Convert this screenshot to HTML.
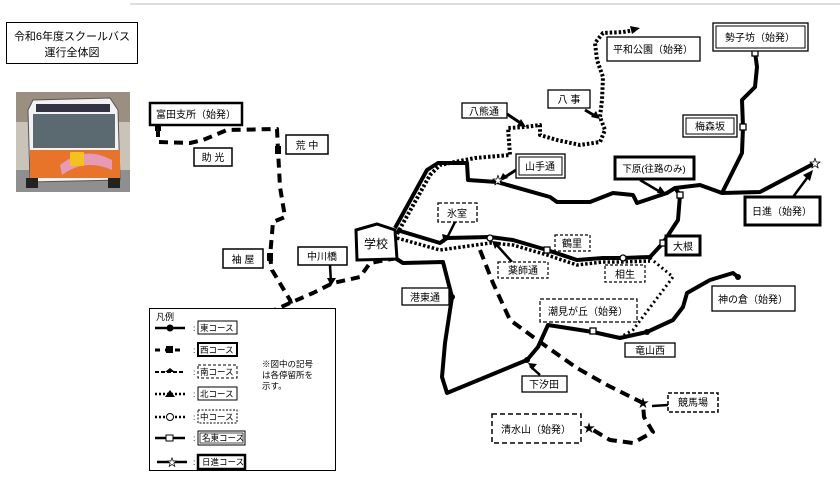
<!DOCTYPE html>
<html><head><meta charset="utf-8"><style>
html,body{margin:0;padding:0;background:#fff;}
svg{display:block;font-family:"Liberation Sans","Noto Sans CJK JP",sans-serif;}
</style></head><body>
<svg width="840" height="498" viewBox="0 0 840 498" xmlns="http://www.w3.org/2000/svg">
<rect width="840" height="498" fill="#fff"/>
<line x1="130" y1="4" x2="840" y2="4" stroke="#ddd" stroke-width="2"/>
<rect x="6.5" y="22.5" width="131" height="41" fill="#fff" stroke="#000"/>
<text x="72" y="40" font-size="11" text-anchor="middle">令和6年度スクールバス</text>
<text x="72" y="56" font-size="11" text-anchor="middle">運行全体図</text>
<g>
<rect x="16" y="92" width="114" height="100" fill="#c9c3b8"/>
<rect x="16" y="92" width="114" height="30" fill="#9a8f80"/>
<rect x="16" y="170" width="114" height="22" fill="#8f8f8f"/>
<path d="M33 100 L110 98 L118 110 L120 180 L30 182 L28 110 Z" fill="#f2f2f2" stroke="#555"/>
<rect x="36" y="104" width="74" height="8" fill="#334"/>
<rect x="33" y="114" width="82" height="34" fill="#5a6a70"/>
<path d="M30 150 L120 150 L120 178 L30 178 Z" fill="#e8742a"/>
<path d="M60 165 Q85 145 112 160 L112 170 Q85 158 62 175 Z" fill="#e79ab8"/>
<rect x="70" y="152" width="14" height="14" fill="#f3c21c"/>
<rect x="26" y="178" width="12" height="10" fill="#222"/><rect x="108" y="178" width="12" height="10" fill="#222"/>
</g>

<g fill="none" stroke="#000" stroke-linejoin="round" stroke-linecap="butt">
<polyline points="158,128 158,142 190,143 203,140 227,130 277,129 278,150 280,187 285,217 273,222 270,257 272,270 290,300 293,310" stroke-width="4" stroke-dasharray="9 6"/>
<polyline points="397,258 370,263 360,277 333,283 313,293 290,303 270,312" stroke-width="4" stroke-dasharray="9 6"/>
<polyline points="480,250 493,283 510,320 547,347 577,368 607,385 643,403 644,417 653,432 633,443 610,440 588,427" stroke-width="4" stroke-dasharray="10 6"/>
<polyline points="397,234 430,175 440,165 475,158 510,155 508,128 525,127 540,125 540,135 557,140 580,145 600,142 605,130 600,117 602,100 603,77 597,60 595,43 603,33 623,32 635,30" stroke-width="4" stroke-dasharray="2.5 2"/>
<polyline points="397,238 440,250 490,243 513,245 547,255 577,265 603,262 623,262 650,261" stroke-width="3.5" stroke-dasharray="2.5 2"/>
<polyline points="650,258 673,277 633,330 617,339" stroke-width="3" stroke-dasharray="2 3"/>
<polyline points="395,228 427,170 438,163 467,163 468,180 497,182 550,197 557,202 590,202 613,193 633,195 637,203 667,193 675,188 700,185 722,193 760,192 815,163" stroke-width="4"/>
<polyline points="755,52 757,67 755,87 742,100 743,127 742,153 730,177 722,193" stroke-width="4"/>
<polyline points="397,230 440,243 447,238 490,237 513,240 547,250 577,260 603,258 623,258 650,257 663,243 678,220 680,195 675,188" stroke-width="4"/>
<polyline points="395,258 403,263 443,262 452,297 445,343 442,377 447,393 527,360 538,347 548,325 593,332 620,338 647,332 673,320 683,307 687,293 710,280 733,273 738,277" stroke-width="4"/>
<line x1="507" y1="114" x2="522" y2="124" stroke-width="3"/>
<line x1="585" y1="110" x2="597" y2="117" stroke-width="3"/>
<line x1="516" y1="170" x2="502" y2="179" stroke-width="3"/>
<line x1="455" y1="222" x2="446" y2="240" stroke-width="2.5"/>
<line x1="512" y1="262" x2="495" y2="243" stroke-width="2.5"/>
<line x1="540" y1="375" x2="530" y2="366" stroke-width="2.5"/>
<line x1="330" y1="265" x2="331" y2="283" stroke-width="2.5"/>
<line x1="668" y1="405" x2="652" y2="406" stroke-width="2.5"/>
<line x1="640" y1="180" x2="662" y2="193" stroke-width="2.5"/>
<line x1="793" y1="197" x2="810" y2="174" stroke-width="2.5"/>
</g>
<g fill="#000">
<polygon points="640,28 630,26 632,34"/>
<polygon points="526,127 517,126 521,119"/>
<polygon points="600,119 591,117 596,111"/>
<polygon points="499,181 503,173 508,178"/>
<polygon points="444,243 442,234 450,236"/>
<polygon points="492,241 500,242 495,249"/>
<polygon points="528,363 537,364 532,370"/>
<polygon points="331,286 327,278 336,278"/>
<polygon points="813,170 803,175 810,181"/>
<polygon points="666,194 657,193 660,186"/>
<circle cx="452" cy="297" r="3"/><circle cx="527" cy="360" r="3"/><circle cx="738" cy="277" r="3"/><circle cx="647" cy="332" r="3"/>
<rect x="155" y="123" width="6" height="8"/><rect x="275" y="146" width="6" height="8"/><rect x="267" y="253" width="6" height="8"/>
<text x="643" y="407" font-size="12" text-anchor="middle">★</text>
<text x="589" y="432" font-size="12" text-anchor="middle">★</text>
</g>
<g fill="#fff" stroke="#000" stroke-width="1.3">
<rect x="752" y="50" width="6" height="6"/><rect x="740" y="124" width="6" height="6"/><rect x="677" y="192" width="6" height="6"/><rect x="660" y="240" width="6" height="6"/>
<rect x="590" y="328" width="6" height="6"/><rect x="544" y="247" width="6" height="6"/>
<circle cx="623" cy="258" r="3"/><circle cx="490" cy="238" r="3"/>
</g>
<text x="498" y="184" font-size="11" text-anchor="middle" fill="#fff" stroke="#000" stroke-width="0.8">★</text>
<text x="815" y="167" font-size="11" text-anchor="middle" fill="#fff" stroke="#000" stroke-width="0.8">★</text>

<polygon points="356,230 377,224 395,230 397,259 357,260" fill="#fff" stroke="#000" stroke-width="3"/>
<text x="376" y="248" font-size="12" text-anchor="middle">学校</text>

<g font-size="10" text-anchor="middle">
<rect x="150" y="103" width="92" height="22" fill="#fff" stroke="#000" stroke-width="2.5"/><text x="196" y="118">富田支所（始発）</text>
<rect x="194" y="148" width="38" height="18" fill="#fff" stroke="#000" stroke-width="1.5"/><text x="213" y="161">助 光</text>
<rect x="286" y="135" width="42" height="19" fill="#fff" stroke="#000" stroke-width="1.5"/><text x="307" y="149">荒 中</text>
<rect x="223" y="249" width="40" height="19" fill="#fff" stroke="#000" stroke-width="1.5"/><text x="243" y="263">袖 屋</text>
<rect x="298" y="247" width="49" height="18" fill="#fff" stroke="#000" stroke-width="1.5"/><text x="322" y="260">中川橋</text>
<rect x="438" y="203" width="39" height="19" fill="#fff" stroke="#000" stroke-width="1.3" stroke-dasharray="4 2"/><text x="457" y="217">氷室</text>
<rect x="462" y="103" width="45" height="15" fill="#fff" stroke="#000" stroke-width="1.3"/><text x="484" y="115">八熊通</text>
<rect x="548" y="90" width="42" height="18" fill="#fff" stroke="#000" stroke-width="1.3"/><text x="569" y="103">八 事</text>
<rect x="607" y="37" width="93" height="24" fill="#fff" stroke="#000" stroke-width="1.3"/><text x="653" y="53">平和公園（始発）</text>
<rect x="713" y="23" width="95" height="28" fill="#fff" stroke="#000" stroke-width="1.3"/><rect x="716" y="26" width="89" height="22" fill="none" stroke="#000" stroke-width="1"/><text x="760" y="41">勢子坊（始発）</text>
<rect x="683" y="115" width="54" height="22" fill="#fff" stroke="#000" stroke-width="1.3"/><rect x="686" y="118" width="48" height="16" fill="none" stroke="#000" stroke-width="1"/><text x="710" y="130">梅森坂</text>
<rect x="516" y="154" width="49" height="24" fill="#fff" stroke="#000" stroke-width="1.3"/><rect x="519" y="157" width="43" height="18" fill="none" stroke="#000" stroke-width="1"/><text x="540" y="170">山手通</text>
<rect x="615" y="157" width="79" height="22" fill="#fff" stroke="#000" stroke-width="3"/><text x="654" y="172" font-size="9.5">下原(往路のみ)</text>
<rect x="745" y="197" width="75" height="28" fill="#fff" stroke="#000" stroke-width="3"/><text x="782" y="215">日進（始発）</text>
<rect x="666" y="236" width="34" height="19" fill="#fff" stroke="#000" stroke-width="3"/><text x="683" y="250">大根</text>
<rect x="555" y="235" width="35" height="16" fill="#fff" stroke="#000" stroke-width="1.2" stroke-dasharray="3 2"/><text x="572" y="247">鶴里</text>
<rect x="498" y="262" width="50" height="16" fill="#fff" stroke="#000" stroke-width="1.2" stroke-dasharray="3 2"/><text x="523" y="274">薬師通</text>
<rect x="605" y="265" width="40" height="17" fill="#fff" stroke="#000" stroke-width="1.2" stroke-dasharray="3 2"/><text x="625" y="278">相生</text>
<rect x="402" y="288" width="47" height="17" fill="#fff" stroke="#000" stroke-width="1.3"/><text x="425" y="301">港東通</text>
<rect x="540" y="299" width="97" height="23" fill="#fff" stroke="#000" stroke-width="1.2" stroke-dasharray="4 2"/><text x="588" y="315">潮見が丘（始発）</text>
<rect x="712" y="286" width="83" height="25" fill="#fff" stroke="#000" stroke-width="1.3"/><text x="753" y="303">神の倉（始発）</text>
<rect x="625" y="343" width="50" height="14" fill="#fff" stroke="#000" stroke-width="1.3"/><text x="650" y="354">竜山西</text>
<rect x="522" y="376" width="45" height="16" fill="#fff" stroke="#000" stroke-width="1.3"/><text x="544" y="388">下汐田</text>
<rect x="668" y="393" width="50" height="19" fill="#fff" stroke="#000" stroke-width="1.5" stroke-dasharray="4 2"/><text x="693" y="406">競馬場</text>
<rect x="492" y="414" width="89" height="29" fill="#fff" stroke="#000" stroke-width="1.5" stroke-dasharray="5 3"/><text x="536" y="433">清水山（始発）</text>
</g>

<rect x="149.5" y="308.5" width="186" height="162" fill="#fff" stroke="#000"/>
<text x="156" y="320" font-size="9">凡例</text>
<g stroke="#000" fill="none">
<line x1="155" y1="328" x2="185" y2="328" stroke-width="2.5"/>
<line x1="155" y1="350" x2="185" y2="350" stroke-width="3" stroke-dasharray="5 5"/>
<line x1="155" y1="372" x2="185" y2="372" stroke-width="2" stroke-dasharray="4 2"/>
<line x1="155" y1="394" x2="185" y2="394" stroke-width="2.5" stroke-dasharray="2 2"/>
<line x1="155" y1="417" x2="185" y2="417" stroke-width="2.5" stroke-dasharray="2 2"/>
<line x1="155" y1="438" x2="185" y2="438" stroke-width="2.5"/>
<line x1="157" y1="462" x2="187" y2="462" stroke-width="2.5"/>
</g>
<circle cx="170" cy="328" r="3.5"/><rect x="166" y="346" width="7" height="7"/>
<polygon points="165,372 170,368 175,372"/><polygon points="165,397 170,390 175,397"/>
<circle cx="170" cy="417" r="3.5" fill="#fff" stroke="#000"/><rect x="166" y="435" width="7" height="6" fill="#fff" stroke="#000"/>
<text x="172" y="466" font-size="10" text-anchor="middle" fill="#fff" stroke="#000" stroke-width="0.7">★</text>
<g font-size="8.5">
<text x="193" y="331">:</text><text x="193" y="353">:</text><text x="193" y="375">:</text><text x="193" y="397">:</text><text x="193" y="420">:</text><text x="193" y="441">:</text><text x="193" y="465">:</text>
<rect x="198" y="321" width="39" height="13" fill="#fff" stroke="#000"/><text x="200" y="331">東コース</text>
<rect x="198" y="343" width="39" height="13" fill="#fff" stroke="#000" stroke-width="2"/><text x="200" y="353">西コース</text>
<rect x="198" y="365" width="39" height="13" fill="#fff" stroke="#000" stroke-dasharray="3 2"/><text x="200" y="375">南コース</text>
<rect x="198" y="387" width="39" height="13" fill="#fff" stroke="#000"/><text x="200" y="397">北コース</text>
<rect x="198" y="410" width="39" height="13" fill="#fff" stroke="#000" stroke-dasharray="2 1.5"/><text x="200" y="420">中コース</text>
<rect x="198" y="431" width="47" height="14" fill="#fff" stroke="#000"/><rect x="200" y="433" width="43" height="10" fill="none" stroke="#000" stroke-width="0.7"/><text x="202" y="441">名東コース</text>
<rect x="198" y="455" width="47" height="14" fill="#fff" stroke="#000" stroke-width="2.5"/><text x="202" y="465">日進コース</text>
<text x="262" y="367">※図中の記号</text>
<text x="262" y="378">は各停留所を</text>
<text x="262" y="389">示す。</text>
</g>
</svg>
</body></html>
